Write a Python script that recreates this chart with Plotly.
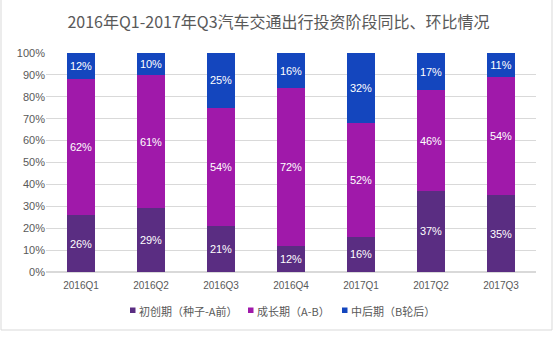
import plotly.graph_objects as go

quarters = ["2016Q1", "2016Q2", "2016Q3", "2016Q4", "2017Q1", "2017Q2", "2017Q3"]
seed_stage = [26, 29, 21, 12, 16, 37, 35]
growth_stage = [62, 61, 54, 72, 52, 46, 54]
late_stage = [12, 10, 25, 16, 32, 17, 11]

series = [
    ("初创期（种子-A前）", seed_stage, "#5a2d82"),
    ("成长期（A-B）", growth_stage, "#a019aa"),
    ("中后期（B轮后）", late_stage, "#1446be"),
]

W, H = 557, 339
ml, mr, mt, mb = 46, 21, 53, 67
pw, ph = W - ml - mr, H - mt - mb


def px(x):
    return (x - ml) / pw


def py(y):
    return (H - mb - y) / ph


fig = go.Figure()
for name, vals, color in series:
    fig.add_trace(go.Bar(
        x=quarters, y=vals, name=name,
        marker=dict(color=color, line=dict(width=0)),
        text=[f"{v}%" for v in vals],
        textposition="inside", insidetextanchor="middle",
        textangle=0, constraintext="none",
        textfont=dict(color="white", size=11, family="Liberation Sans, Arial"),
        width=0.4,
        showlegend=False,
    ))

# Legend drawn as small swatches with labels below the plot
legend_x = [130, 248, 342]
shapes = []
annotations = []
for (name, _, color), lx in zip(series, legend_x):
    shapes.append(dict(
        type="rect", xref="paper", yref="paper",
        x0=px(lx), x1=px(lx + 5.5), y0=py(313), y1=py(307.5),
        fillcolor=color, line=dict(width=0),
    ))
    annotations.append(dict(
        text=name, xref="paper", yref="paper",
        x=px(lx + 7), y=py(311), xanchor="left", yanchor="middle",
        showarrow=False,
        font=dict(size=11, color="#595959", family="Noto Sans CJK SC"),
    ))

# Light frame around the whole chart
shapes.append(dict(
    type="rect", xref="paper", yref="paper",
    x0=px(1), x1=px(552), y0=py(330), y1=py(-2),
    line=dict(color="#d9d9d9", width=1), fillcolor="rgba(0,0,0,0)",
    layer="below",
))

fig.update_layout(
    width=W, height=H,
    margin=dict(l=ml, r=mr, t=mt, b=mb, autoexpand=False),
    barmode="stack",
    paper_bgcolor="white", plot_bgcolor="white",
    title=dict(
        text="2016年Q1-2017年Q3汽车交通出行投资阶段同比、环比情况",
        x=0.5, xanchor="center", y=1 - 22 / H, yanchor="middle",
        font=dict(size=16, color="#595959", family="Noto Sans CJK SC"),
    ),
    font=dict(family="Noto Sans CJK SC", color="#595959"),
    showlegend=False,
    xaxis=dict(
        showgrid=False, showline=False, ticks="", automargin=False,
        ticklabelstandoff=6,
        tickfont=dict(size=10, color="#595959", family="Liberation Sans, Arial"),
    ),
    yaxis=dict(
        range=[0, 100], dtick=10, ticksuffix="%", automargin=False,
        showgrid=True, gridcolor="#d9d9d9", gridwidth=1,
        zeroline=True, zerolinecolor="#d9d9d9",
        tickfont=dict(size=11, color="#595959", family="Liberation Sans, Arial"),
        showline=False,
    ),
    shapes=shapes,
    annotations=annotations,
)

fig.write_html("out.html")
